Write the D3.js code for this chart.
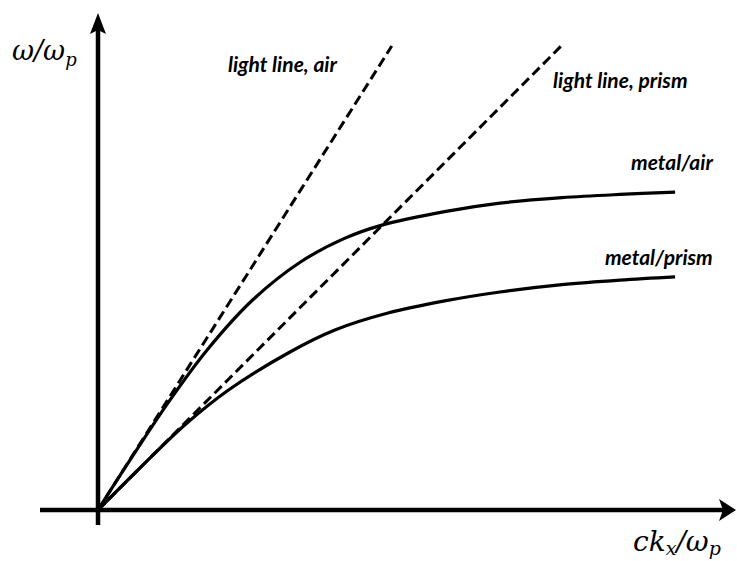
<!DOCTYPE html>
<html>
<head>
<meta charset="utf-8">
<script src="https://cdn.jsdelivr.net/npm/d3@7"></script>
<style>
  html, body { margin: 0; padding: 0; background: #fff; }
  svg { display: block; }
</style>
</head>
<body>
<svg id="chart" width="737" height="561"></svg>
<script>
// ---- data (ck_x/ω_p, ω/ω_p) ----
const lightAirX   = [0, 1.013];
const lightAirY   = [0, 1.013];
const lightPrismX = [0, 1.597];
const lightPrismY = [0, 1.013];

const metalAirX = [0, 0.10, 0.248, 0.377, 0.534, 0.697, 0.85, 0.979, 1.2, 1.386, 1.6, 1.8, 1.99];
const metalAirY = [0, 0.099, 0.24, 0.35, 0.459, 0.541, 0.593, 0.622, 0.652, 0.670, 0.682, 0.689, 0.694];

const metalPrismX = [0, 0.15, 0.30, 0.45, 0.662, 0.817, 1.0, 1.2, 1.386, 1.6, 1.8, 1.99];
const metalPrismY = [0, 0.095, 0.186, 0.262, 0.345, 0.393, 0.430, 0.457, 0.476, 0.492, 0.502, 0.509];

const curveLabels = ["light line, air", "light line, prism", "metal/air", "metal/prism"];
const labelPosX   = [0.448, 1.569, 1.838, 1.748];
const labelPosY   = [0.956, 0.921, 0.742, 0.535];

const xAxisExtent = [-0.2, 2.2];
const yAxisExtent = [-0.033, 1.085];

// ---- scales ----
const x = d3.scaleLinear().domain([0, 1]).range([98, 388]);
const y = d3.scaleLinear().domain([0, 1]).range([510, 52]);

const svg = d3.select("#chart");

// ---- axes ----
const ax = svg.append("g");
ax.append("line")
  .attr("x1", x(xAxisExtent[0])).attr("x2", x(xAxisExtent[1]) - 10)
  .attr("y1", y(0)).attr("y2", y(0))
  .attr("stroke", "#000").attr("stroke-width", 4.5);
ax.append("line")
  .attr("x1", x(0)).attr("x2", x(0))
  .attr("y1", y(yAxisExtent[0])).attr("y2", y(yAxisExtent[1]) + 12)
  .attr("stroke", "#000").attr("stroke-width", 4.5);

// arrowheads
const xt = x(xAxisExtent[1]), yt = y(0);
ax.append("path")
  .attr("d", `M${xt},${yt} L${xt - 17},${yt - 11} L${xt - 13},${yt} L${xt - 17},${yt + 11} Z`)
  .attr("fill", "#000");
const yx = x(0), yy = y(yAxisExtent[1]);
ax.append("path")
  .attr("d", `M${yx},${yy} L${yx - 8},${yy + 21} L${yx},${yy + 17} L${yx + 8},${yy + 21} Z`)
  .attr("fill", "#000");

// ---- curves ----
const zip = (xs, ys) => xs.map((v, i) => [v, ys[i]]);
const lineGen = d3.line().x(d => x(d[0])).y(d => y(d[1])).curve(d3.curveCatmullRom.alpha(0.5));

svg.append("path").datum(zip(lightAirX, lightAirY))
  .attr("d", lineGen).attr("fill", "none").attr("stroke", "#000")
  .attr("stroke-width", 3).attr("stroke-dasharray", "10,5");
svg.append("path").datum(zip(lightPrismX, lightPrismY))
  .attr("d", lineGen).attr("fill", "none").attr("stroke", "#000")
  .attr("stroke-width", 3).attr("stroke-dasharray", "10,5");
svg.append("path").datum(zip(metalAirX, metalAirY))
  .attr("d", lineGen).attr("fill", "none").attr("stroke", "#000")
  .attr("stroke-width", 3.2);
svg.append("path").datum(zip(metalPrismX, metalPrismY))
  .attr("d", lineGen).attr("fill", "none").attr("stroke", "#000")
  .attr("stroke-width", 3.2);

// ---- curve labels ----
svg.selectAll("text.lab").data(curveLabels).enter().append("text")
  .attr("class", "lab")
  .attr("x", (d, i) => x(labelPosX[i]))
  .attr("y", (d, i) => y(labelPosY[i]))
  .attr("text-anchor", "start")
  .attr("font-family", "Lato, 'Open Sans', sans-serif")
  .attr("font-weight", "bold")
  .attr("font-style", "italic")
  .attr("font-size", 21)
  .text(d => d);

// ---- axis titles ----
const mathFont = "'DejaVu Serif', 'Liberation Serif', serif";
const yt1 = svg.append("text").attr("x", 12).attr("y", 60)
  .attr("font-family", mathFont).attr("font-style", "italic").attr("font-size", 27);
yt1.append("tspan").text("ω/ω");
yt1.append("tspan").attr("font-size", 18).attr("dy", 6).text("p");

const xt1 = svg.append("text").attr("x", 633).attr("y", 551)
  .attr("font-family", mathFont).attr("font-style", "italic").attr("font-size", 28);
xt1.append("tspan").text("ck");
xt1.append("tspan").attr("font-size", 19).attr("dy", 4).text("x");
xt1.append("tspan").attr("dy", -4).text("/ω");
xt1.append("tspan").attr("font-size", 19).attr("dy", 4).text("p");
</script>
</body>
</html>
